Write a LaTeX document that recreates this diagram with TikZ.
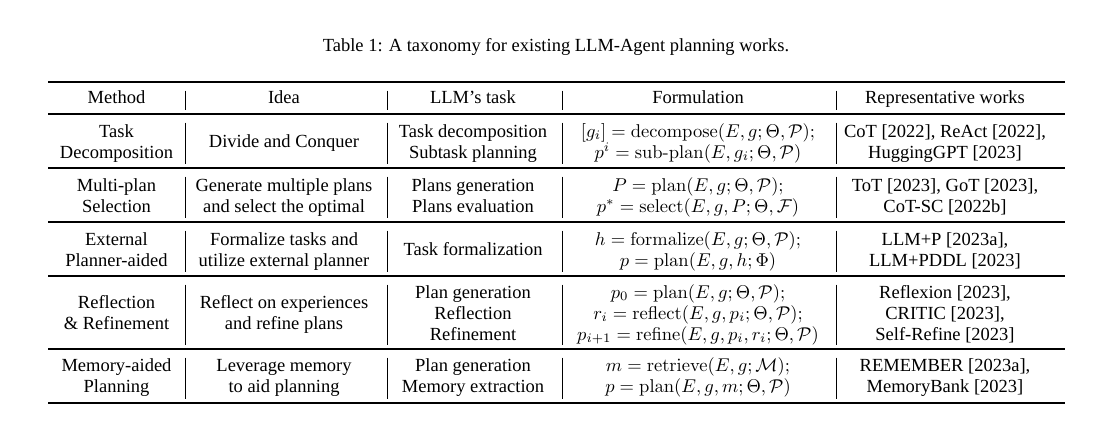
\documentclass[tikz,border=0pt]{standalone}
\usepackage[no-math]{fontspec}
\setmainfont{Liberation Serif}
\newcommand{\cmhy}{\mbox{\fontfamily{lmr}\selectfont -}}
\begin{document}
\begin{tikzpicture}[x=0.5405pt,y=-0.5405pt,
  cell/.style={anchor=base,inner sep=0pt,font=\fontsize{10}{12}\selectfont},
  heavyrule/.style={line width=1.1pt},
  lightrule/.style={line width=0.6pt},
  vbar/.style={line width=0.45pt}]
\useasboundingbox (0,0) rectangle (1115,435);
% caption
\node[cell] (cap) at (556,51.5) {Table 1: A taxonomy for existing LLM-Agent planning works.};
% horizontal rules
\draw[heavyrule] (48,82) -- (1065,82);
\foreach \yy in {114,168,222,276,349} \draw[lightrule] (48,\yy) -- (1065,\yy);
\draw[heavyrule] (48,403) -- (1065,403);
% vertical bars
\foreach \ya/\yb in {82/114,114/168,168/222,222/276,276/349,349/403}
  \foreach \xx in {185,387,562,836}
    \draw[vbar] (\xx,\ya+8.5) -- (\xx,\yb-4.5);
% header
\node[cell] (h1) at (116.5,103) {Method};
\node[cell] (h2) at (284,103) {Idea};
\node[cell] (h3) at (473,103) {LLM's task};
\node[cell] (h4) at (698,103) {Formulation};
\node[cell] (h5) at (945,103) {Representative works};
% row 1
\node[cell] (a1a) at (116.5,137) {Task};
\node[cell] (a1b) at (116.5,158) {Decomposition};
\node[cell] (a2) at (284,147.5) {Divide and Conquer};
\node[cell] (a3a) at (473,137) {Task decomposition};
\node[cell] (a3b) at (473,158) {Subtask planning};
\node[cell] (a4a) at (698,137) {$[g_i] = \mathrm{decompose}(E, g; \Theta, \mathcal{P});$};
\node[cell] (a4b) at (698,158) {$p^i = \mathrm{sub\cmhy plan}(E, g_i; \Theta, \mathcal{P})$};
\node[cell] (a5a) at (945,137) {CoT [2022], ReAct [2022],};
\node[cell] (a5b) at (945,158) {HuggingGPT [2023]};
% row 2
\node[cell] (b1a) at (116.5,191) {Multi-plan};
\node[cell] (b1b) at (116.5,212) {Selection};
\node[cell] (b2a) at (284,191) {Generate multiple plans};
\node[cell] (b2b) at (284,212) {and select the optimal};
\node[cell] (b3a) at (473,191) {Plans generation};
\node[cell] (b3b) at (473,212) {Plans evaluation};
\node[cell] (b4a) at (698,191) {$P = \mathrm{plan}(E, g; \Theta, \mathcal{P});$};
\node[cell] (b4b) at (698,212) {$p^* = \mathrm{select}(E, g, P; \Theta, \mathcal{F})$};
\node[cell] (b5a) at (945,191) {ToT [2023], GoT [2023],};
\node[cell] (b5b) at (945,212) {CoT-SC [2022b]};
% row 3
\node[cell] (c1a) at (116.5,245) {External};
\node[cell] (c1b) at (116.5,266) {Planner-aided};
\node[cell] (c2a) at (284,245) {Formalize tasks and};
\node[cell] (c2b) at (284,266) {utilize external planner};
\node[cell] (c3) at (473,255.5) {Task formalization};
\node[cell] (c4a) at (698,245) {$h = \mathrm{formalize}(E, g; \Theta, \mathcal{P});$};
\node[cell] (c4b) at (698,266) {$p = \mathrm{plan}(E, g, h; \Phi)$};
\node[cell] (c5a) at (945,245) {LLM+P [2023a],};
\node[cell] (c5b) at (945,266) {LLM+PDDL [2023]};
% row 4
\node[cell] (d1a) at (116.5,308.5) {Reflection};
\node[cell] (d1b) at (116.5,329.5) {\& Refinement};
\node[cell] (d2a) at (284,308.5) {Reflect on experiences};
\node[cell] (d2b) at (284,329.5) {and refine plans};
\node[cell] (d3a) at (473,298) {Plan generation};
\node[cell] (d3b) at (473,319) {Reflection};
\node[cell] (d3c) at (473,340) {Refinement};
\node[cell] (d4a) at (698,298) {$p_0 = \mathrm{plan}(E, g; \Theta, \mathcal{P});$};
\node[cell] (d4b) at (698,319) {$r_i = \mathrm{reflect}(E, g, p_i; \Theta, \mathcal{P});$};
\node[cell] (d4c) at (698,340) {$p_{i+1} = \mathrm{refine}(E, g, p_i, r_i; \Theta, \mathcal{P})$};
\node[cell] (d5a) at (945,298) {Reflexion [2023],};
\node[cell] (d5b) at (945,319) {CRITIC [2023],};
\node[cell] (d5c) at (945,340) {Self-Refine [2023]};
% row 5
\node[cell] (e1a) at (116.5,371.5) {Memory-aided};
\node[cell] (e1b) at (116.5,392.5) {Planning};
\node[cell] (e2a) at (284,371.5) {Leverage memory};
\node[cell] (e2b) at (284,392.5) {to aid planning};
\node[cell] (e3a) at (473,371.5) {Plan generation};
\node[cell] (e3b) at (473,392.5) {Memory extraction};
\node[cell] (e4a) at (698,371.5) {$m = \mathrm{retrieve}(E, g; \mathcal{M});$};
\node[cell] (e4b) at (698,392.5) {$p = \mathrm{plan}(E, g, m; \Theta, \mathcal{P})$};
\node[cell] (e5a) at (945,371.5) {REMEMBER [2023a],};
\node[cell] (e5b) at (945,392.5) {MemoryBank [2023]};
\end{tikzpicture}
\end{document}
